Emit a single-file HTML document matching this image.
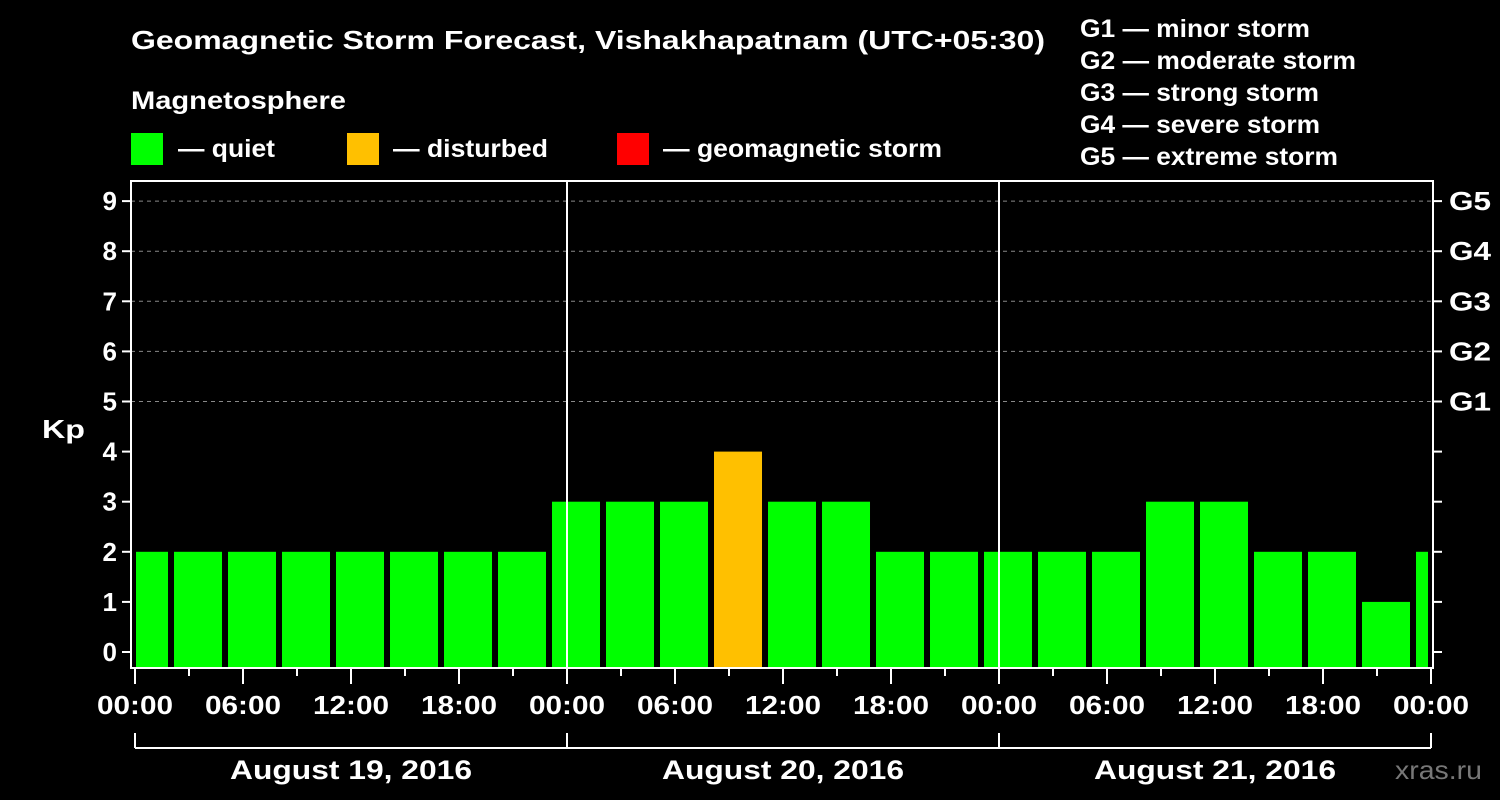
<!DOCTYPE html>
<html><head><meta charset="utf-8"><style>
body{margin:0;background:#000;}
svg{display:block;font-family:"Liberation Sans",Arial,sans-serif;font-weight:bold;}
</style></head><body>
<svg id="c" width="1500" height="800" viewBox="0 0 1500 800">
<rect width="1500" height="800" fill="#000"/>
<text x="131" y="49" fill="#fff" font-size="26" textLength="914" lengthAdjust="spacingAndGlyphs">Geomagnetic Storm Forecast, Vishakhapatnam (UTC+05:30)</text>
<text x="131" y="109" fill="#fff" font-size="25" textLength="215" lengthAdjust="spacingAndGlyphs">Magnetosphere</text>
<g><rect x="131" y="133" width="32" height="32" fill="#00ff00"/><text x="178" y="157" fill="#fff" font-size="25" textLength="97" lengthAdjust="spacingAndGlyphs">— quiet</text></g>
<g><rect x="347" y="133" width="32" height="32" fill="#ffc000"/><text x="393" y="157" fill="#fff" font-size="25" textLength="155" lengthAdjust="spacingAndGlyphs">— disturbed</text></g>
<g><rect x="617" y="133" width="32" height="32" fill="#ff0000"/><text x="663" y="157" fill="#fff" font-size="25" textLength="279" lengthAdjust="spacingAndGlyphs">— geomagnetic storm</text></g>
<g fill="#fff" font-size="25">
<text x="1080" y="37" textLength="230" lengthAdjust="spacingAndGlyphs">G1 — minor storm</text>
<text x="1080" y="69" textLength="276" lengthAdjust="spacingAndGlyphs">G2 — moderate storm</text>
<text x="1080" y="101" textLength="239" lengthAdjust="spacingAndGlyphs">G3 — strong storm</text>
<text x="1080" y="133" textLength="240" lengthAdjust="spacingAndGlyphs">G4 — severe storm</text>
<text x="1080" y="165" textLength="258" lengthAdjust="spacingAndGlyphs">G5 — extreme storm</text>
</g>
<text x="42" y="438" fill="#fff" font-size="26" textLength="43" lengthAdjust="spacingAndGlyphs">Kp</text>
<defs><clipPath id="pc"><rect x="136" y="181" width="1292" height="487"/></clipPath></defs>
<g id="grid"></g>
<g id="bars" clip-path="url(#pc)"></g>
<g id="axes"></g>
<text x="1395" y="779" fill="#777" font-size="26" font-weight="normal" textLength="87" lengthAdjust="spacingAndGlyphs">xras.ru</text>
</svg>
<script>
const kpValues=[2,2,2,2,2,2,2,2,3,3,3,4,3,3,2,2,2,2,2,3,3,2,2,1,2];
const yTicks=[0,1,2,3,4,5,6,7,8,9];
const gLabels=["G1","G2","G3","G4","G5"];
const hourLabels=["00:00","06:00","12:00","18:00","00:00","06:00","12:00","18:00","00:00","06:00","12:00","18:00","00:00"];
const dayLabels=["August 19, 2016","August 20, 2016","August 21, 2016"];
const NS="http://www.w3.org/2000/svg";
const L=131,R=1433,T=181,B=668;
const x=h=>135+h*18;
const y=v=>652-v*50.1;
function mk(tag,attrs,parent,txt){const e=document.createElementNS(NS,tag);for(const k in attrs)e.setAttribute(k,attrs[k]);if(txt!==undefined)e.textContent=txt;parent.appendChild(e);return e;}
const grid=document.getElementById('grid'),bars=document.getElementById('bars'),axes=document.getElementById('axes');
for(let v=5;v<=9;v++){const l=mk('line',{x1:L,x2:R,y1:y(v),y2:y(v),stroke:'#888','stroke-dasharray':'4,4','stroke-width':1},grid);

}
kpValues.forEach((v,i)=>{const start=x(-0.833+(i)*3);const col=v>=5?'#ff0000':(v>=4?'#ffc000':'#00ff00');
const r=mk('rect',{x:start,y:y(v),width:48,height:667-y(v),fill:col},bars);

});
mk('rect',{x:L,y:T,width:R-L,height:B-T,fill:'none',stroke:'#fff','stroke-width':2},axes);
[24,48].forEach(h=>{const l=mk('line',{x1:x(h),x2:x(h),y1:T,y2:B,stroke:'#fff','stroke-width':2},axes);

});
yTicks.forEach(v=>{mk('line',{x1:L-9,x2:L,y1:y(v),y2:y(v),stroke:'#fff','stroke-width':2},axes);
mk('line',{x1:R,x2:R+9,y1:y(v),y2:y(v),stroke:'#fff','stroke-width':2},axes);
const t=mk('text',{x:117,y:y(v)+9,fill:'#fff','font-size':26,'text-anchor':'end'},axes,String(v));

});
gLabels.forEach((g,i)=>{const t=mk('text',{x:1449,y:y(5+i)+9,fill:'#fff','font-size':26,textLength:42,lengthAdjust:'spacingAndGlyphs'},axes,g);

});
for(let h=0;h<=72;h+=3){const major=h%6===0;mk('line',{x1:x(h),x2:x(h),y1:B,y2:B+(major?16:8),stroke:'#fff','stroke-width':2},axes);}
hourLabels.forEach((s,i)=>{const t=mk('text',{x:x(i*6)-38,y:714,fill:'#fff','font-size':26,textLength:76,lengthAdjust:'spacingAndGlyphs'},axes,s);

});
mk('line',{x1:x(0),x2:x(72),y1:748,y2:748,stroke:'#fff','stroke-width':2},axes);
[0,24,48,72].forEach(h=>mk('line',{x1:x(h),x2:x(h),y1:733,y2:748,stroke:'#fff','stroke-width':2},axes));
dayLabels.forEach((s,i)=>{const t=mk('text',{x:x(12+i*24)-121,y:779,fill:'#fff','font-size':27,textLength:242,lengthAdjust:'spacingAndGlyphs'},axes,s);

});
</script>
</body></html>
